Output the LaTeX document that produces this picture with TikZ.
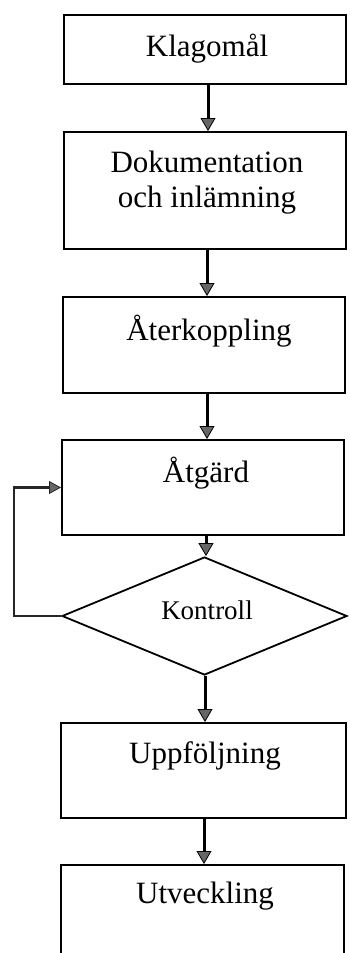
\documentclass[tikz,border=0pt]{standalone}
\usepackage{fontspec}
\setmainfont{Liberation Serif}
\usetikzlibrary{arrows.meta,shapes.geometric}
\begin{document}
\begin{tikzpicture}[x=1pt,y=-1pt,
  box/.style={draw=black,line width=2pt,rectangle,inner sep=0pt,minimum width=282pt},
  lbl/.style={anchor=base,inner sep=0pt,font=\fontsize{31}{37}\selectfont},
  flow/.style={line width=3pt,-{Triangle[width=15pt,length=13pt,fill=black!60,line width=0.8pt]}},
  loop/.style={line width=2.4pt,draw=black!85,-{Triangle[width=13pt,length=12pt,fill=black!60,line width=0.8pt]}}]
\useasboundingbox (0,0) rectangle (349,953);
\clip (0,0) rectangle (349,953);
\node[box,minimum height=69pt] (b1) at (205,49.5) {};
\node[box,minimum height=117pt] (b2) at (205,190.5) {};
\node[box,minimum height=96pt] (b3) at (204,345) {};
\node[box,minimum height=95pt] (b4) at (203,487.5) {};
\node[draw=black,line width=1.8pt,diamond,inner sep=0pt,minimum width=285pt,minimum height=118pt] (dia) at (204.5,616) {};
\node[box,minimum height=95pt,minimum width=285pt] (b5) at (203.5,770.5) {};
\node[box,minimum height=95pt,minimum width=283pt] (b6) at (202.5,912.5) {};
\node[lbl] (t1) at (207,56) {Klagomål};
\node[lbl] (t2a) at (207,172) {Dokumentation};
\node[lbl] (t2b) at (207,207) {och inlämning};
\node[lbl] (t3) at (209,340) {Återkoppling};
\node[lbl] (t4) at (206,482) {Åtgärd};
\node[lbl,font=\fontsize{27}{31}\selectfont] (t5) at (207,619) {Kontroll};
\node[lbl] (t6) at (205,763) {Uppföljning};
\node[lbl] (t7) at (205,903) {Utveckling};
\draw[flow] (b1.south -| 208,0) -- (b2.north -| 208,0);
\draw[flow] (b2.south -| 207,0) -- (b3.north -| 207,0);
\draw[flow] (b3.south -| 207,0) -- (b4.north -| 207,0);
\draw[flow] (b4.south -| 206,0) -- (dia.north -| 206,0);
\draw[flow] (dia.south -| 205,0) -- (b5.north -| 205,0);
\draw[flow] (b5.south -| 204,0) -- (b6.north -| 204,0);
\coordinate (lp) at (14,616);
\draw[loop] (dia.west) -- (lp) |- (b4.west);
\end{tikzpicture}
\end{document}
